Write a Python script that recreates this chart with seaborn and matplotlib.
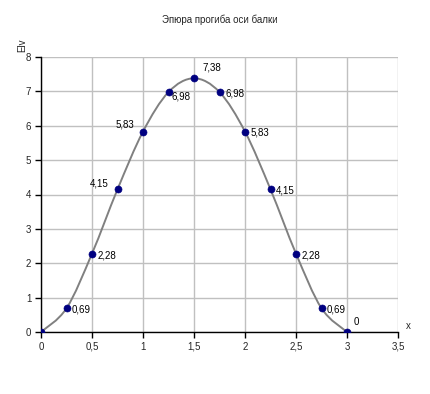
import matplotlib
matplotlib.use("Agg")
import matplotlib.pyplot as plt
import seaborn as sns
import pandas as pd
from matplotlib.path import Path
from matplotlib.patches import PathPatch

x_vals = [0, 0.25, 0.5, 0.75, 1.0, 1.25, 1.5, 1.75, 2.0, 2.25, 2.5, 2.75, 3.0]
y_vals = [0, 0.69, 2.28, 4.15, 5.83, 6.98, 7.38, 6.98, 5.83, 4.15, 2.28, 0.69, 0]
labels = ["", "0,69", "2,28", "4,15", "5,83", "6,98", "7,38", "6,98", "5,83", "4,15", "2,28", "0,69", "0"]
x_ticks = [0, 0.5, 1, 1.5, 2, 2.5, 3, 3.5]
x_tick_labels = ["0", "0,5", "1", "1,5", "2", "2,5", "3", "3,5"]
y_ticks = [0, 1, 2, 3, 4, 5, 6, 7, 8]

sns.set_theme(style="white")
plt.rcParams['font.family'] = ['Liberation Sans', 'DejaVu Sans']

fig = plt.figure(figsize=(4.30, 3.94), dpi=100)
ax = fig.add_axes([41/430, (394-332)/394, (398-41)/430, (332-57)/394])

df = pd.DataFrame({"x": x_vals, "y": y_vals})

# smoothed line (Bezier through points, as Excel smoothing)
verts = [(x_vals[0], y_vals[0])]
codes = [Path.MOVETO]
n = len(x_vals)
t = 1/6
for i in range(n - 1):
    p0 = (x_vals[max(i-1, 0)], y_vals[max(i-1, 0)])
    p1 = (x_vals[i], y_vals[i])
    p2 = (x_vals[i+1], y_vals[i+1])
    p3 = (x_vals[min(i+2, n-1)], y_vals[min(i+2, n-1)])
    c1 = (p1[0] + (p2[0]-p0[0])*t, p1[1] + (p2[1]-p0[1])*t)
    c2 = (p2[0] - (p3[0]-p1[0])*t, p2[1] - (p3[1]-p1[1])*t)
    verts += [c1, c2, p2]
    codes += [Path.CURVE4]*3
ax.add_patch(PathPatch(Path(verts, codes), facecolor='none', edgecolor='#808080', lw=1.4, zorder=2))

sns.scatterplot(data=df, x="x", y="y", ax=ax, color='#000080', s=26, edgecolor='#000080', zorder=3, legend=False)

offsets = {3: (-20, 4), 4: (-20, 5), 5: (2, -3), 6: (6, 8), 12: (5, 7)}
for i, (xv, yv, lb) in enumerate(zip(x_vals, y_vals, labels)):
    if not lb:
        continue
    dx, dy = offsets.get(i, (4, -1))
    ax.annotate(lb, (xv, yv), xytext=(dx, dy), textcoords='offset points',
                fontsize=7, ha='left', va='center', color='black')

ax.set_xlim(0, 3.5)
ax.set_ylim(0, 8)
ax.set_xticks(x_ticks)
ax.set_xticklabels(x_tick_labels)
ax.set_yticks(y_ticks)
ax.grid(True, color='#c0c0c0', lw=1)
ax.set_axisbelow(True)
for s in ['top', 'right']:
    ax.spines[s].set_visible(False)
for s in ['left', 'bottom']:
    ax.spines[s].set_color('black')
    ax.spines[s].set_linewidth(1)
ax.tick_params(axis='both', which='both', direction='out', length=4, width=1,
               color='black', labelsize=7, bottom=True, left=True, pad=3)
ax.set_xlabel("")
ax.set_ylabel("")
fig.text(220/430, 1 - 20/394, "Эпюра прогиба оси балки", ha='center', va='center', fontsize=7)
fig.text(22/430, 1 - 45/394, "Elv", ha='center', va='center', fontsize=7, rotation=90)
fig.text(408/430, 1 - 326/394, "x", ha='center', va='center', fontsize=7)

fig.savefig("out.png", dpi=100, facecolor='white')
